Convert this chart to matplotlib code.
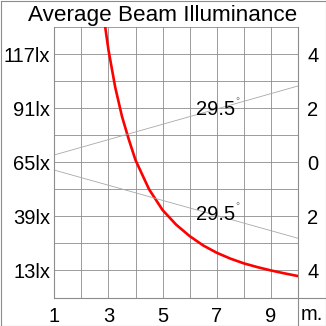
import matplotlib
matplotlib.use('Agg')
import matplotlib.pyplot as plt
from matplotlib.lines import Line2D
import numpy as np

plt.rcParams['font.family'] = ['Liberation Sans', 'DejaVu Sans']

# Illuminance curve (distance in m, lux)
distance = [2.88, 3.0, 3.25, 3.5, 3.75, 4.0, 4.5, 5.0, 5.5, 6.0, 6.5, 7.0,
            7.5, 8.0, 8.5, 9.0, 9.5, 10.0]
lux = [130, 119, 101, 87, 76, 66, 52, 42, 35, 29.5, 25, 21.5,
       18.7, 16.4, 14.6, 13, 11.6, 10.3]

# Beam edges (distance, half width in m)
beam_x = [1, 10]
beam_upper = [0.27, 2.82]
beam_lower = [-0.29, -2.81]
beam_label = "29.5"
label_x = 7.67
label_y = [1.95, -1.92]

x_ticks = [1, 3, 5, 7, 9]
lux_ticks = [13, 39, 65, 91, 117]
lux_labels = ["13lx", "39lx", "65lx", "91lx", "117lx"]
m_ticks = [-4, -2, 0, 2, 4]
m_labels = ["4", "2", "0", "2", "4"]

W = 326.0
grid_c = '#8c8c8c'
fs = 14.5

fig = plt.figure(figsize=(3.26, 3.26), dpi=100)
left, right, top, bottom = 54.3, 298.0, 27.0, 297.5
ax = fig.add_axes([left / W, 1 - bottom / W, (right - left) / W, (bottom - top) / W])
ax.set_xlim(1, 10)
ax.set_ylim(0, 130)
ax.set_xticks(np.arange(1, 11, 1))
ax.set_xticklabels([str(v) if v in x_ticks else "" for v in range(1, 11)])
ax.set_yticks(np.arange(0, 131, 13))
ax.set_yticklabels([lux_labels[lux_ticks.index(v)] if v in lux_ticks else "" for v in range(0, 131, 13)])
ax.grid(True, color=grid_c, linewidth=0.6)
ax.tick_params(length=0, labelsize=fs, colors='black')
ax.tick_params(axis='y', pad=3)
ax.tick_params(axis='x', pad=7)
for s in ax.spines.values():
    s.set_visible(False)

ax.plot(distance, lux, color='#ff0000', linewidth=1.9, zorder=5)

ax2 = ax.twinx()
ax2.set_ylim(-5, 5)
ax2.set_yticks(m_ticks)
ax2.set_yticklabels(m_labels)
ax2.tick_params(length=0, labelsize=fs, pad=6.5)
for s in ax2.spines.values():
    s.set_visible(False)
ax2.plot(beam_x, beam_upper, color='#a8a8a8', linewidth=0.6)
ax2.plot(beam_x, beam_lower, color='#a8a8a8', linewidth=0.6)
for y in label_y:
    ax2.text(label_x, y, beam_label, ha='right', va='center', fontsize=fs)
    ax2.text(label_x + 0.02, y + 0.3, "°", ha='left', va='center', fontsize=7.5, color='#707070')

# frame lines
def fline(x0, y0, x1, y1):
    fig.add_artist(Line2D([x0 / W, x1 / W], [1 - y0 / W, 1 - y1 / W], color=grid_c, linewidth=0.8))

fline(left, top, left, bottom)
fline(left, bottom, W, bottom)
fline(right, top, right, W)
fline(0.5, 0.5, W - 0.5, 0.5)
fline(0.5, W - 0.5, W - 0.5, W - 0.5)
fline(0.5, 0.5, 0.5, W - 0.5)
fline(W - 0.5, 0.5, W - 0.5, W - 0.5)

fig.text(0.5, 1 - 20.5 / W, "Average Beam Illuminance", ha='center', va='baseline', fontsize=16.2)
fig.text(312 / W, 1 - 314.5 / W, "m.", ha='center', va='center', fontsize=fs)

fig.savefig('out.png', dpi=100)
